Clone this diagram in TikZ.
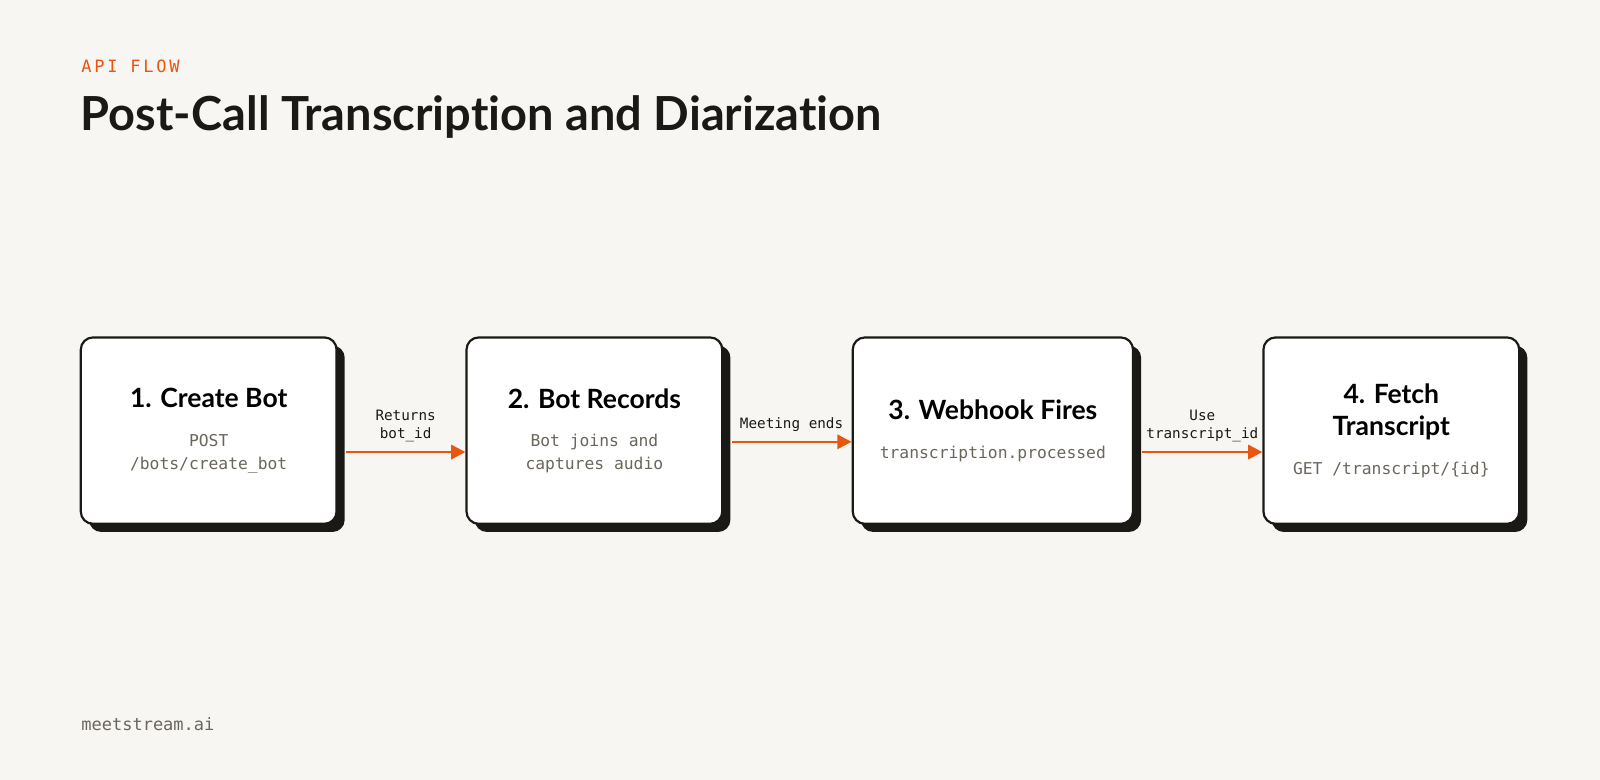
\documentclass[tikz,border=0pt]{standalone}
\usepackage{fontspec}
\setmainfont{Lato}[Ligatures=NoCommon]
\newfontfamily\monofont{DejaVu Sans Mono}
\usetikzlibrary{positioning,shadows,arrows.meta}
\definecolor{paper}{HTML}{F7F6F3}
\definecolor{accent}{HTML}{E8560F}
\definecolor{ink}{HTML}{1A1915}
\definecolor{muted}{HTML}{6B665C}
\tikzset{
  stepbox/.style={draw=ink,line width=1.6pt,fill=white,rounded corners=9pt,
    minimum width=188pt,minimum height=137pt,align=center,inner sep=0pt,
    font=\fontsize{12}{16.5}\selectfont,
    drop shadow={shadow xshift=6pt,shadow yshift=-6pt,fill=ink,opacity=1}},
  flow/.style={draw=accent,line width=1.8pt,-{Triangle[length=10.5pt,width=10.5pt]}},
  lbl/.style={font=\monofont\fontsize{10.5}{13.5}\selectfont,text=ink,align=center},
}
\newcommand{\stitle}[1]{{\bfseries\fontsize{19.5}{23}\selectfont #1}}
\newcommand{\ssub}[1]{{\monofont\fontsize{12}{16.5}\selectfont\color{muted}#1}}
\begin{document}
\begin{tikzpicture}[x=0.75pt,y=-0.75pt]
  \fill[paper] (0,0) rectangle (1568,764);
  \useasboundingbox (0,0) rectangle (1568,764);
  \node[anchor=west,text=accent,font=\monofont\fontsize{12.5}{14}\selectfont] (tag) at (75,65) {A\kern2pt P\kern2pt I\kern2pt\ F\kern2pt L\kern2pt O\kern2pt W};
  \node[anchor=west,text=ink,font=\bfseries\fontsize{34.5}{40}\selectfont,inner sep=0pt] (head) at (79,115) {Post-Call Transcription and Diarization};
  \node[anchor=west,text=muted,font=\monofont\fontsize{12.5}{14}\selectfont] (foot) at (75,710) {meetstream.ai};
  % steps
  \node[stepbox] (create) at (204.5,422) {\stitle{1. Create Bot}\\[12pt]\ssub{POST}\\\ssub{/bots/create\_bot}};
  \node[stepbox] (record) at (582.5,422) {\stitle{2. Bot Records}\\[12pt]\ssub{Bot joins and}\\\ssub{captures audio}};
  \node[stepbox,minimum width=206pt] (hook) at (973,422) {\stitle{3. Webhook Fires}\\[12pt]\ssub{transcription.processed}};
  \node[stepbox] (fetch) at (1363.5,422) {\stitle{4. Fetch}\\[7pt]\stitle{Transcript}\\[12pt]\ssub{GET /transcript/\{id\}}};
  % arrows
  \draw[flow] ([shift={(8,21)}]create.east) -- ([shift={(0,21)}]record.west) node[midway,lbl,above=3pt] {Returns\\bot\_id};
  \draw[flow] ([shift={(8,11)}]record.east) -- ([shift={(0,11)}]hook.west) node[midway,lbl,above=3pt] {Meeting ends};
  \draw[flow] ([shift={(8,21)}]hook.east) -- ([shift={(0,21)}]fetch.west) node[midway,lbl,above=3pt] {Use\\transcript\_id};
\end{tikzpicture}
\end{document}
